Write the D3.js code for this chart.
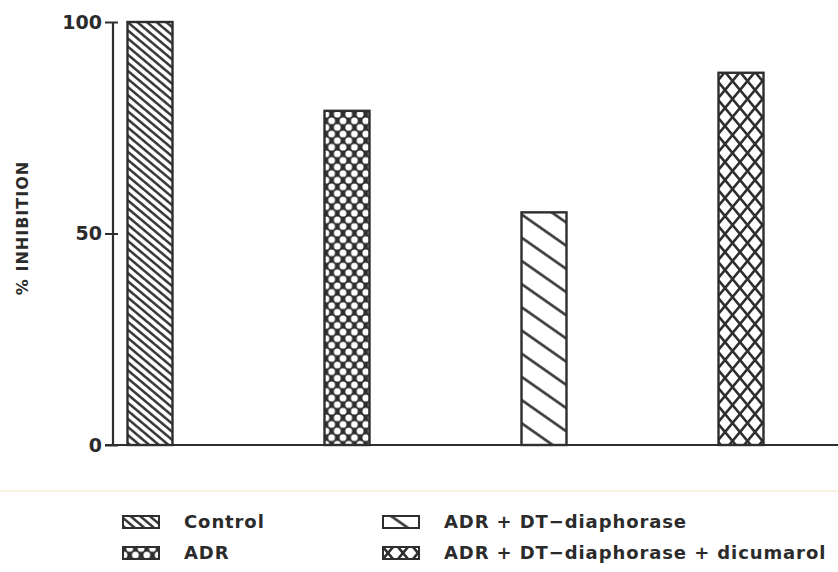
<!DOCTYPE html>
<html lang="en">
  <head>
    <meta charset="utf-8" />
    <title>% Inhibition</title>
    <script type="text/javascript" src="https://d3js.org/d3.v7.min.js" charset="utf-8"></script>
    <style type="text/css">
      body { margin: 0; background: #fff; }
      text { font-family: "DejaVu Sans", sans-serif; fill: #2b2b2b; }
    </style>
  </head>
  <body>
    <script type="text/javascript">
      // data
      var groups = ["Control", "ADR", "ADR + DT\u2212diaphorase", "ADR + DT\u2212diaphorase + dicumarol"];
      var values = [100, 79, 55, 88];
      var patterns = ["p-control", "p-adr", "p-dt", "p-dic"];
      var yTicks = [0, 50, 100];

      var W = 838, H = 572;
      var ink = "#2e2e2e";
      var margin = { top: 22, left: 113, bottom: 127 };
      var plotBottom = H - margin.bottom; // 445

      var svg = d3.select("body").append("svg")
        .attr("width", W).attr("height", H);

      var defs = svg.append("defs");

      // single hatch: vertical line in the middle of a tile, then rotated
      function hatch(id, size, angle, sw) {
        var p = defs.append("pattern").attr("id", id)
          .attr("patternUnits", "userSpaceOnUse").attr("width", size).attr("height", size)
          .attr("patternTransform", "rotate(" + angle + ")");
        p.append("rect").attr("width", size).attr("height", size).attr("fill", "#fff");
        p.append("line").attr("x1", size / 2).attr("y1", 0).attr("x2", size / 2).attr("y2", size)
          .attr("stroke", ink).attr("stroke-width", sw);
      }
      hatch("p-control", 6.2, -50, 2.4);
      hatch("p-dt", 19, -55, 2.5);

      // dense dotted crosshatch (ADR)
      var aw = 11.4, ah = 13.2;
      var p2 = defs.append("pattern").attr("id", "p-adr")
        .attr("patternUnits", "userSpaceOnUse").attr("width", aw).attr("height", ah)
        .attr("x", 1).attr("y", 2);
      p2.append("rect").attr("width", aw).attr("height", ah).attr("fill", ink);
      [[0, 0], [aw, 0], [0, ah], [aw, ah], [aw / 2, ah / 2]].forEach(function (c) {
        p2.append("circle").attr("cx", c[0]).attr("cy", c[1]).attr("r", 3.4).attr("fill", "#fff");
      });

      // open crosshatch (dicumarol)
      var dw = 15, dh = 18;
      var p4 = defs.append("pattern").attr("id", "p-dic")
        .attr("patternUnits", "userSpaceOnUse").attr("width", dw).attr("height", dh)
        .attr("x", 5).attr("y", 0);
      p4.append("rect").attr("width", dw).attr("height", dh).attr("fill", "#fff");
      [-1, 0, 1].forEach(function (i) {
        [-1, 0, 1].forEach(function (j) {
          var ox = i * dw, oy = j * dh;
          p4.append("line").attr("x1", ox).attr("y1", oy).attr("x2", ox + dw).attr("y2", oy + dh)
            .attr("stroke", ink).attr("stroke-width", 2.6);
          p4.append("line").attr("x1", ox + dw).attr("y1", oy).attr("x2", ox).attr("y2", oy + dh)
            .attr("stroke", ink).attr("stroke-width", 2.6);
        });
      });

      // scales
      var y = d3.scaleLinear().domain([0, 100]).range([plotBottom, margin.top]);
      var x = d3.scalePoint().domain(groups).range([150, 741]);
      var barW = 45;

      // bars
      svg.append("g").selectAll("rect")
        .data(groups)
        .join("rect")
        .attr("x", function (d) { return x(d) - barW / 2; })
        .attr("y", function (d, i) { return y(values[i]); })
        .attr("width", barW)
        .attr("height", function (d, i) { return plotBottom - y(values[i]); })
        .attr("fill", function (d, i) { return "url(#" + patterns[i] + ")"; })
        .attr("stroke", ink).attr("stroke-width", 2.4);

      // x baseline
      svg.append("line")
        .attr("x1", 105).attr("x2", W).attr("y1", plotBottom).attr("y2", plotBottom)
        .attr("stroke", ink).attr("stroke-width", 2.2);

      // y axis
      var gY = svg.append("g")
        .attr("transform", "translate(" + margin.left + ",0)")
        .call(d3.axisLeft(y).tickValues(yTicks).tickSize(8).tickPadding(3));
      gY.select(".domain").attr("stroke", ink).attr("stroke-width", 2.2)
        .attr("d", "M0," + y(100) + "V" + plotBottom);
      gY.selectAll(".tick line").attr("stroke", ink).attr("stroke-width", 2).attr("x2", 5).attr("x1", -8);
      gY.selectAll(".tick text")
        .style("font-size", "19px").style("font-weight", "bold").attr("fill", ink)
        .style("font-family", "'DejaVu Sans', sans-serif");

      svg.append("text")
        .attr("transform", "translate(28,228) rotate(-90)")
        .attr("text-anchor", "middle")
        .style("font-size", "16px").style("font-weight", "bold").style("letter-spacing", "1px")
        .text("% INHIBITION");

      // faint separator seen above legend
      svg.append("line")
        .attr("x1", 0).attr("x2", W).attr("y1", 491).attr("y2", 491)
        .attr("stroke", "#f8f1e2").attr("stroke-width", 2);

      // legend
      var legPos = [[123, 522], [123, 553], [383, 522], [383, 553]];
      var leg = svg.append("g").selectAll("g")
        .data(groups)
        .join("g")
        .attr("transform", function (d, i) { return "translate(" + legPos[i][0] + "," + legPos[i][1] + ")"; });
      leg.append("rect")
        .attr("x", 0).attr("y", -6).attr("width", 36).attr("height", 12)
        .attr("fill", function (d, i) { return "url(#" + patterns[i] + ")"; })
        .attr("stroke", ink).attr("stroke-width", 2);
      leg.append("text")
        .attr("x", 61).attr("y", 0).attr("dy", "0.36em")
        .style("font-size", "18px").style("font-weight", "bold").style("letter-spacing", "0.9px")
        .text(function (d) { return d; });
    </script>
  </body>
</html>
